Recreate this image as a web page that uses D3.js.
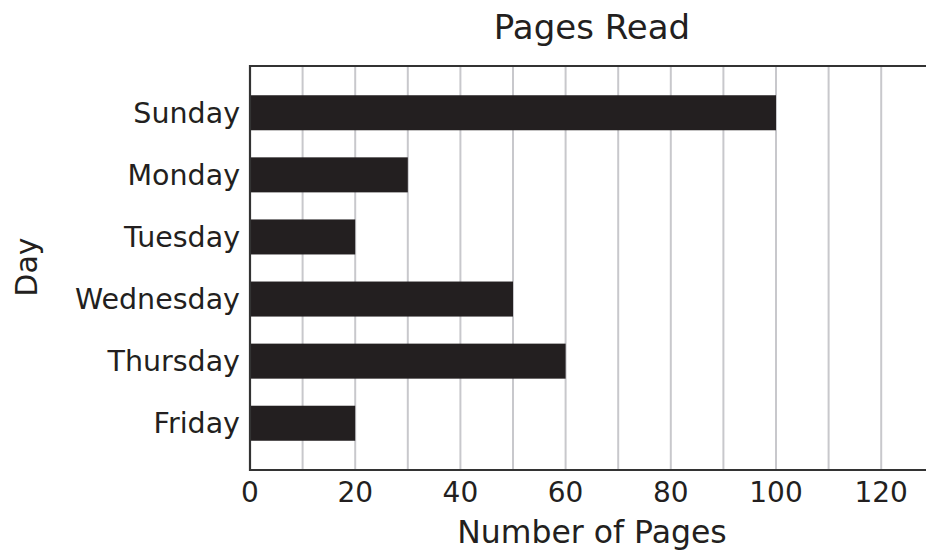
<!DOCTYPE html>
<html>
<head>
<meta charset="utf-8">
<script src="https://cdn.jsdelivr.net/npm/d3@7"></script>
<style>
  html, body { margin: 0; padding: 0; background: #fff; }
  svg { display: block; }
  text { font-family: "DejaVu Sans", Verdana, sans-serif; fill: #231f20; }
</style>
</head>
<body>
<svg id="chart" width="926" height="553"></svg>
<script>
const days = ["Sunday", "Monday", "Tuesday", "Wednesday", "Thursday", "Friday"];
const pages = [100, 30, 20, 50, 60, 20];
const xTickValues = [0, 20, 40, 60, 80, 100, 120];
const gridValues = [10, 20, 30, 40, 50, 60, 70, 80, 90, 100, 110, 120];
const chartTitle = "Pages Read";
const xTitle = "Number of Pages";
const yTitle = "Day";

(function () {
const svg = d3.select("#chart");
const pLeft = 250, pTop = 66, pBottom = 470;
const x = d3.scaleLinear().domain([0, 130]).range([pLeft, pLeft + 130 * 5.26]);
const y = d3.scaleBand().domain(days).range([pTop, pBottom]).paddingInner(0.436).paddingOuter(0.471);

// gridlines
svg.append("g").selectAll("line").data(gridValues).join("line")
  .attr("x1", d => x(d)).attr("x2", d => x(d))
  .attr("y1", pTop).attr("y2", pBottom)
  .attr("stroke", "#c8c8cc").attr("stroke-width", 2);

// bars
svg.append("g").selectAll("rect").data(days).join("rect")
  .attr("x", x(0))
  .attr("y", d => y(d))
  .attr("width", (d, i) => x(pages[i]) - x(0))
  .attr("height", y.bandwidth())
  .attr("fill", "#231f20");

// frame: top, left, bottom
const frame = svg.append("g").attr("stroke", "#333").attr("stroke-width", 2.2).attr("fill", "none");
frame.append("line").attr("x1", pLeft).attr("x2", 926).attr("y1", pTop).attr("y2", pTop);
frame.append("line").attr("x1", pLeft).attr("x2", 926).attr("y1", pBottom).attr("y2", pBottom);
frame.append("line").attr("x1", pLeft).attr("x2", pLeft).attr("y1", pTop - 1.1).attr("y2", pBottom + 1.1);

// x tick labels
svg.append("g").selectAll("text").data(xTickValues).join("text")
  .attr("x", d => x(d)).attr("y", 502)
  .attr("text-anchor", "middle")
  .attr("font-size", 28)
  .text(d => d);

// y labels
svg.append("g").selectAll("text").data(days).join("text")
  .attr("x", 240)
  .attr("y", d => y(d) + y.bandwidth() / 2 + 10)
  .attr("text-anchor", "end")
  .attr("font-size", 28.5)
  .text(d => d);

// titles
svg.append("text").attr("x", 592).attr("y", 39).attr("text-anchor", "middle")
  .attr("font-size", 34).text(chartTitle);
svg.append("text").attr("x", 592).attr("y", 543).attr("text-anchor", "middle")
  .attr("font-size", 31.5).text(xTitle);
svg.append("text").attr("transform", "translate(37,267) rotate(-90)").attr("text-anchor", "middle")
  .attr("font-size", 30).text(yTitle);
})();
</script>
</body>
</html>
